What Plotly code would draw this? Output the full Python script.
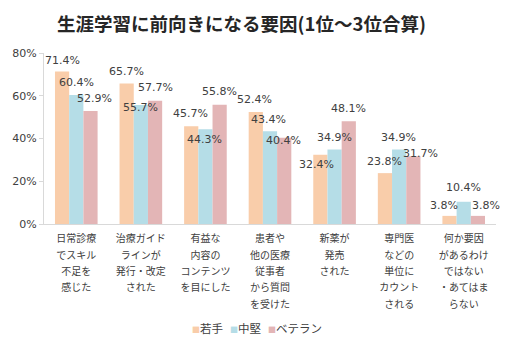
import plotly.graph_objects as go

categories = [
    ["日常診療", "でスキル", "不足を", "感じた"],
    ["治療ガイド", "ラインが", "発行・改定", "された"],
    ["有益な", "内容の", "コンテンツ", "を目にした"],
    ["患者や", "他の医療", "従事者", "から質問", "を受けた"],
    ["新薬が", "発売", "された"],
    ["専門医", "などの", "単位に", "カウント", "される"],
    ["何か要因", "があるわけ", "ではない", "・あてはま", "らない"],
]
series_names = ["若手", "中堅", "ベテラン"]
wakate = [71.4, 65.7, 45.7, 52.4, 32.4, 23.8, 3.8]
chuken = [60.4, 55.7, 44.3, 43.4, 34.9, 34.9, 10.4]
veteran = [52.9, 57.7, 55.8, 40.4, 48.1, 31.7, 3.8]
y_ticks = [0, 20, 40, 60, 80]

colors = ["#F9CDAA", "#B5DDE7", "#E3B5B6"]
# per-label pixel offsets (dx, dy) relative to bar top, mimicking manual label placement
label_offsets = [
    [(0, 11), (0, 12), (-1, 13), (-1, 12), (-4, -10), (0, 12), (-6, 10)],
    [(0, 12), (0, -3), (-1, -10), (-2, 12), (0, 12), (-1, 12), (0, 14)],
    [(4, 12), (0, 13), (0, 13), (-1, -3), (0, 13), (7, 3), (8, 10)],
]

bargap = 0.34
n = len(categories)
x_idx = list(range(n))
tick_text = [
    "<br>".join('<span style="font-size:10px">%s</span>' % line for line in lines)
    for lines in categories
]

fig = go.Figure()
all_series = [wakate, chuken, veteran]
for name, vals, col in zip(series_names, all_series, colors):
    fig.add_trace(go.Bar(x=x_idx, y=vals, name=name, marker_color=col,
                         marker_line_width=0, showlegend=False))

annotations = []
w = (1 - bargap) / 3
for k, vals in enumerate(all_series):
    for i, v in enumerate(vals):
        dx, dy = label_offsets[k][i]
        annotations.append(dict(
            x=i + (k - 1) * w, y=v, xref="x", yref="y",
            text="%.1f%%" % v, showarrow=False,
            xshift=dx, yshift=dy, yanchor="middle", xanchor="center",
            font=dict(family="DejaVu Sans", size=11, color="#404040"),
        ))

legend_text = '<span style="font-size:7px">\u3000</span>'.join(
    '<span style="color:%s;font-size:8px">■</span>%s' % (c, nm)
    for nm, c in zip(series_names, colors)
)
annotations.append(dict(
    x=0.471, y=-(328 - 224) / 171, xref="paper", yref="paper",
    text=legend_text, showarrow=False, xanchor="center", yanchor="middle",
    font=dict(family="Noto Sans CJK JP", size=11.5, color="#404040"),
))

fig.update_layout(
    width=516, height=348,
    margin=dict(l=41, r=20, t=53, b=124),
    paper_bgcolor="white", plot_bgcolor="white",
    barmode="group", bargap=bargap, bargroupgap=0,
    title=dict(text="<b>生涯学習に前向きになる要因(1位～3位合算)</b>",
               x=0.437, xref="paper", xanchor="center",
               y=1 - 25 / 348, yref="container", yanchor="middle",
               font=dict(family="Noto Sans CJK JP", size=18.5, color="#262626")),
    annotations=annotations,
    showlegend=False,
)
fig.update_xaxes(
    tickmode="array", tickvals=x_idx, ticktext=tick_text,
    range=[-0.5, n - 0.5],
    showline=True, linecolor="#D9D9D9", linewidth=1,
    ticks="", showgrid=False, zeroline=False,
    tickfont=dict(family="Noto Sans CJK JP", size=12.6, color="#404040"),
    tickangle=0, ticklabelstandoff=2,
)
fig.update_yaxes(
    range=[0, 80], tickvals=y_ticks, ticktext=["%d%%" % t for t in y_ticks],
    showline=True, linecolor="#D9D9D9", linewidth=1,
    ticks="outside", ticklen=4, tickcolor="#D9D9D9",
    showgrid=False, zeroline=False,
    tickfont=dict(family="DejaVu Sans", size=11, color="#404040"),
)

fig.write_html("out.html")
